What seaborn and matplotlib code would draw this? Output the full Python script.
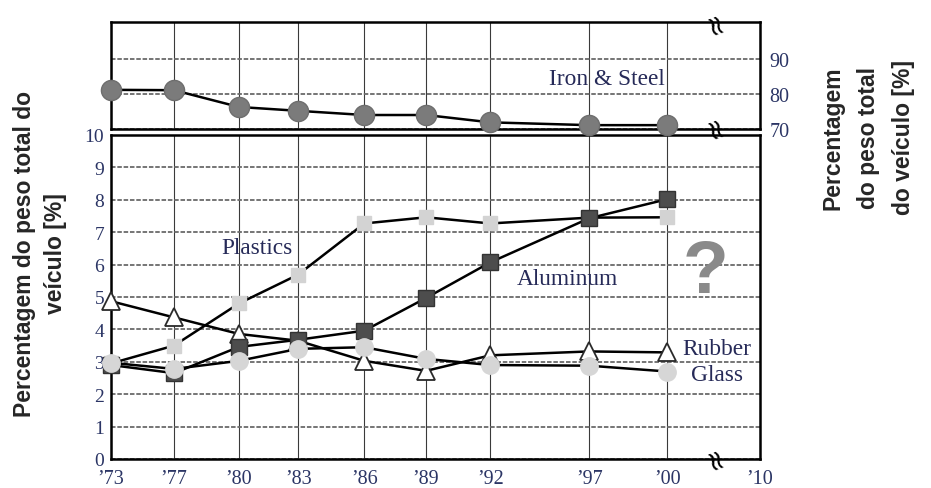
import numpy as np
import pandas as pd
import matplotlib
matplotlib.use("Agg")
import matplotlib.pyplot as plt
import seaborn as sns

# ---------------- data ----------------
year_labels = ["’73", "’77", "’80", "’83", "’86", "’89", "’92", "’97", "’00"]
axis_labels = year_labels + ["’10"]

iron_steel = [81.2, 81.1, 76.3, 75.2, 74.0, 74.0, 71.9, 71.1, 71.1]
plastics = [2.95, 3.5, 4.8, 5.69, 7.27, 7.46, 7.27, 7.45, 7.46]
aluminum = [2.9, 2.65, 3.46, 3.68, 3.96, 4.97, 6.07, 7.43, 8.02]
rubber = [4.87, 4.37, 3.86, 3.65, 3.03, 2.72, 3.2, 3.32, 3.29]
glass = [2.97, 2.78, 3.03, 3.4, 3.45, 3.09, 2.9, 2.88, 2.7]

# axis scale (non-uniform spacing of the original chart)
axis_pos = [0, 1, 2.03, 2.97, 4.02, 5.0, 6.02, 7.59, 8.83, 10.3]
pos_of = dict(zip(axis_labels, axis_pos))

def frame(values):
    return pd.DataFrame({"pos": [pos_of[y] for y in year_labels], "value": values})

sns.set_style("white")
plt.rcParams["font.family"] = ["Liberation Serif", "DejaVu Serif"]

W, H = 931, 489
fig = plt.figure(figsize=(W / 100, H / 100), dpi=100)
ax = fig.add_axes([111 / W, 1 - 460 / H, 649 / W, 324 / H])
axt = fig.add_axes([111 / W, 1 - 130 / H, 649 / W, 107 / H])
axt.set_zorder(3)

tick_color = "#2b3565"
text_color = "#262a58"

for a in (ax, axt):
    a.set_xlim(0, 10.3)
    a.set_xticks(axis_pos)
    a.grid(axis="x", color="#3a3a3a", lw=0.8, ls="-")
    a.grid(axis="y", color="#6a6a6a", lw=1.3, ls=(0, (2.5, 1)))
    a.tick_params(length=0)
    for s in a.spines.values():
        s.set_color("black")
        s.set_linewidth(1.8)
    a.set_axisbelow(True)

ax.set_ylim(0, 10)
ax.set_yticks(range(0, 11))
ax.set_yticklabels([str(v) for v in range(0, 11)], fontsize=14, color=tick_color)
ax.set_xticklabels(axis_labels, fontsize=14.5, color=tick_color)
ax.tick_params(axis="y", pad=5)
ax.tick_params(axis="x", pad=7)

axt.set_ylim(70, 100.6)
axt.set_yticks([70, 80, 90])
axt.yaxis.tick_right()
axt.set_yticklabels(["70", "80", "90"], fontsize=14.5, color=tick_color)
axt.tick_params(axis="y", pad=7)
axt.set_xticklabels([])

line_kw = dict(color="black", lw=1.8, clip_on=False)

sns.lineplot(data=frame(iron_steel), x="pos", y="value", ax=axt, marker="o",
             markersize=14.5, markerfacecolor="#7b7b7b", markeredgecolor="#6e6e6e",
             markeredgewidth=1, zorder=5, **line_kw)

sns.lineplot(data=frame(plastics), x="pos", y="value", ax=ax, marker="s",
             markersize=9.5, markerfacecolor="#d3d3d3", markeredgecolor="#d3d3d3",
             markeredgewidth=1, zorder=3, **line_kw)
sns.lineplot(data=frame(rubber), x="pos", y="value", ax=ax, marker="^",
             markersize=13, markerfacecolor="white", markeredgecolor="#2a2a2a",
             markeredgewidth=1.3, zorder=4, **line_kw)
sns.lineplot(data=frame(aluminum), x="pos", y="value", ax=ax, marker="s",
             markersize=11.5, markerfacecolor="#4d4d4d", markeredgecolor="#333333",
             markeredgewidth=1, zorder=5, **line_kw)
sns.lineplot(data=frame(glass), x="pos", y="value", ax=ax, marker="o",
             markersize=12.5, markerfacecolor="#d6d6d6", markeredgecolor="#d6d6d6",
             markeredgewidth=1, zorder=6, **line_kw)

for a in (ax, axt):
    a.set_xlabel("")
    a.set_ylabel("")

# series labels
lab_fs = 16.8
ax.text(2.32, 6.54, "Plastics", fontsize=lab_fs, color=text_color, ha="center", va="center")
ax.text(7.25, 5.56, "Aluminum", fontsize=lab_fs, color=text_color, ha="center", va="center")
ax.text(9.62, 3.42, "Rubber", fontsize=lab_fs, color=text_color, ha="center", va="center", zorder=7)
ax.text(9.62, 2.62, "Glass", fontsize=lab_fs, color=text_color, ha="center", va="center", zorder=7)
axt.text(7.87, 84.3, "Iron & Steel", fontsize=lab_fs, color=text_color, ha="center", va="center")

ax.text(9.43, 5.75, "?", fontsize=54, fontweight="bold", color="#8a8a8a",
        ha="center", va="center", family=["Liberation Sans", "DejaVu Sans"])

# axis break marks
for (px, py) in [(712, 27), (712, 131), (712, 462)]:
    fig.text(px / W, 1 - py / H, "≈", rotation=-70, fontsize=20, ha="center",
             va="center", color="black", family=["DejaVu Sans"], zorder=10)

# axis titles
fig.text(40 / W, 1 - 254 / H, "Percentagem do peso total do\nveículo [%]", rotation=90,
         ha="center", va="center", multialignment="center", fontsize=16.5,
         fontweight="bold", linespacing=1.4, family=["Liberation Sans", "DejaVu Sans"])
fig.text(868 / W, 1 - 138 / H, "Percentagem\ndo peso total\ndo veículo [%]", rotation=90,
         ha="center", va="center", multialignment="center", fontsize=16.5,
         fontweight="bold", linespacing=1.68, family=["Liberation Sans", "DejaVu Sans"])

fig.savefig("out.png", dpi=100)
